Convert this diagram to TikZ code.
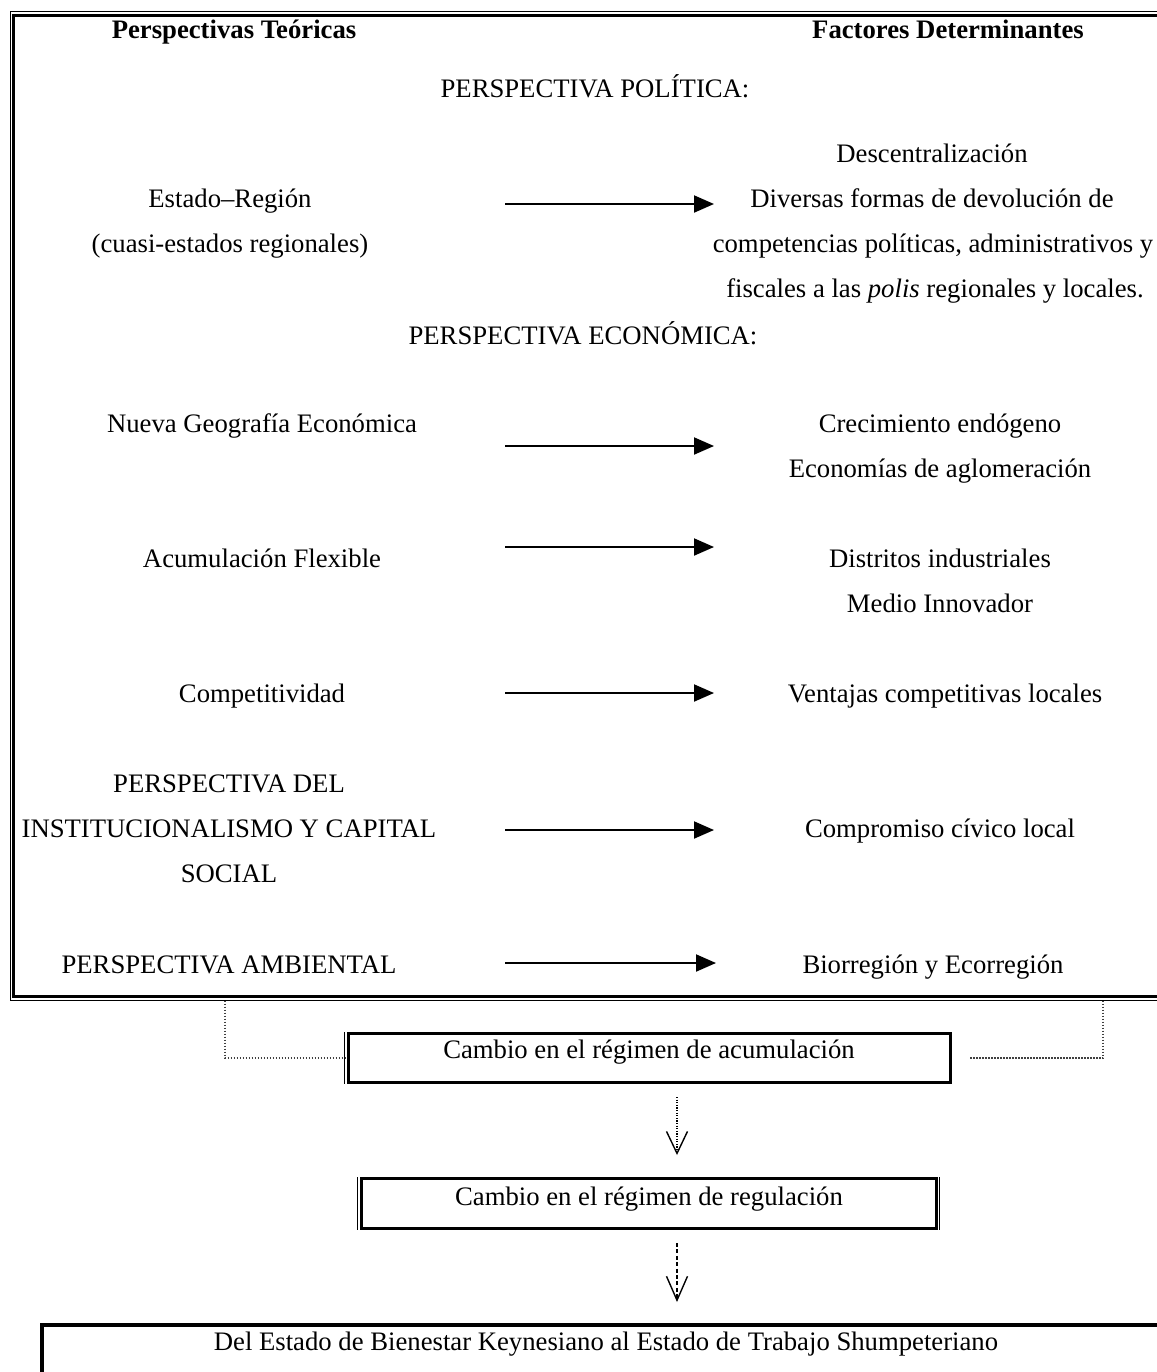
\documentclass[tikz,border=0pt]{standalone}
\usepackage{fontspec}
\setmainfont{Liberation Serif}
\usetikzlibrary{arrows.meta}
\tikzset{
  txt/.style={anchor=base, inner sep=0pt, font=\fontsize{13.35pt}{16pt}\selectfont},
  hdr/.style={txt, font=\fontsize{13.35pt}{16pt}\selectfont\bfseries},
  harrow/.style={line width=1pt, -{Triangle[length=10pt,width=8.5pt]}},
  thickline/.style={line width=1.5pt},
  thinline/.style={line width=0.5pt},
  stagebox/.style={draw, line width=1.5pt, inner sep=0pt},
  dotl/.style={line width=0.6pt, black!75, dash pattern=on 0.6pt off 0.9pt},
  vdot/.style={line width=0.6pt, dash pattern=on 0.6pt off 0.7pt, -{Straight Barb[length=11pt,width=10.5pt,line width=0.7pt]}},
  vdash/.style={line width=1.1pt, dash pattern=on 2pt off 1.2pt, -{Straight Barb[length=12pt,width=10.5pt,line width=0.7pt]}},
}
\begin{document}
\begin{tikzpicture}[x=0.5pt,y=-0.5pt]
\useasboundingbox (0,0) rectangle (1157,1372);
\clip (0,0) rectangle (1157,1372);
% outer frame
\draw[thinline] (10,11.5) rectangle (1200,1000);
\draw[thickline] (13.5,15) rectangle (1200,996.5);
\coordinate (fl) at (225,1000.5);
\coordinate (fr) at (1103,1000.5);
% headers
\node[hdr] (hleft) at (234,38) {Perspectivas Teóricas};
\node[hdr] (hright) at (948,38) {Factores Determinantes};
% politica
\node[txt] (ppol) at (595,97) {PERSPECTIVA POLÍTICA:};
\node[txt] (desc) at (932,162) {Descentralización};
\node[txt] (div1) at (932,207) {Diversas formas de devolución de};
\node[txt] (div2) at (933,252) {competencias políticas, administrativos y};
\node[txt] (div3) at (935,297) {fiscales a las \textit{polis} regionales y locales.};
\node[txt] (er1) at (230,207) {Estado–Región};
\node[txt] (er2) at (230,252) {(cuasi-estados regionales)};
\coordinate (a1s) at (505,204); \coordinate (a1e) at (714,204);
\draw[harrow] (a1s) -- (a1e);
% economica
\node[txt] (peco) at (583,344) {PERSPECTIVA ECONÓMICA:};
\node[txt] (ngeo) at (262,432) {Nueva Geografía Económica};
\node[txt] (crec) at (940,432) {Crecimiento endógeno};
\node[txt] (aglo) at (940,477) {Economías de aglomeración};
\coordinate (a2s) at (505,446); \coordinate (a2e) at (714,446);
\draw[harrow] (a2s) -- (a2e);
\node[txt] (acfl) at (262,567) {Acumulación Flexible};
\node[txt] (dist) at (940,567) {Distritos industriales};
\node[txt] (medi) at (940,612) {Medio Innovador};
\coordinate (a3s) at (505,547); \coordinate (a3e) at (714,547);
\draw[harrow] (a3s) -- (a3e);
\node[txt] (comp) at (262,702) {Competitividad};
\node[txt] (vent) at (945,702) {Ventajas competitivas locales};
\coordinate (a4s) at (505,693); \coordinate (a4e) at (714,693);
\draw[harrow] (a4s) -- (a4e);
% institucionalismo
\node[txt] (ins1) at (229,792) {PERSPECTIVA DEL};
\node[txt] (ins2) at (229,837) {INSTITUCIONALISMO Y CAPITAL};
\node[txt] (ins3) at (229,882) {SOCIAL};
\node[txt] (civi) at (940,837) {Compromiso cívico local};
\coordinate (a5s) at (505,830); \coordinate (a5e) at (714,830);
\draw[harrow] (a5s) -- (a5e);
% ambiental
\node[txt] (amb) at (229,973) {PERSPECTIVA AMBIENTAL};
\node[txt] (bior) at (933,973) {Biorregión y Ecorregión};
\coordinate (a6s) at (505,963); \coordinate (a6e) at (716,963);
\draw[harrow] (a6s) -- (a6e);
% lower boxes
\coordinate (vx) at (677,0);
\node[stagebox, minimum width=301.25pt, minimum height=24.5pt] (acum) at (649.25,1058) {};
\draw[thinline] ([xshift=-1pt]acum.north west) -- ([xshift=-1pt]acum.south west);
\node[txt] (acumt) at (649,1058) {Cambio en el régimen de acumulación};
\node[stagebox, minimum width=287.5pt, minimum height=25pt] (reg) at (648.5,1203.5) {};
\draw[thinline] ([xshift=-1pt]reg.north west) -- ([xshift=-1pt]reg.south west);
\draw[thinline] ([xshift=1pt]reg.north east) -- ([xshift=1pt]reg.south east);
\node[txt] (regt) at (649,1205) {Cambio en el régimen de regulación};
\node[draw, line width=2pt, inner sep=0pt, minimum width=579.25pt, minimum height=47.5pt] (estado) at (620.75,1372.5) {};
\node[txt] (estadot) at (606,1350) {Del Estado de Bienestar Keynesiano al Estado de Trabajo Shumpeteriano};
% connectors
\draw[dotl] (fl) |- (acum.west);
\draw[dotl, shorten >=8.5pt] (fr) |- (acum.east);
\draw[vdot, shorten <=6.5pt, shorten >=11pt] (acum.south -| vx) -- (reg.north -| vx);
\draw[vdash, shorten <=6.5pt, shorten >=10.5pt] (reg.south -| vx) -- (estado.north -| vx);
\end{tikzpicture}
\end{document}
